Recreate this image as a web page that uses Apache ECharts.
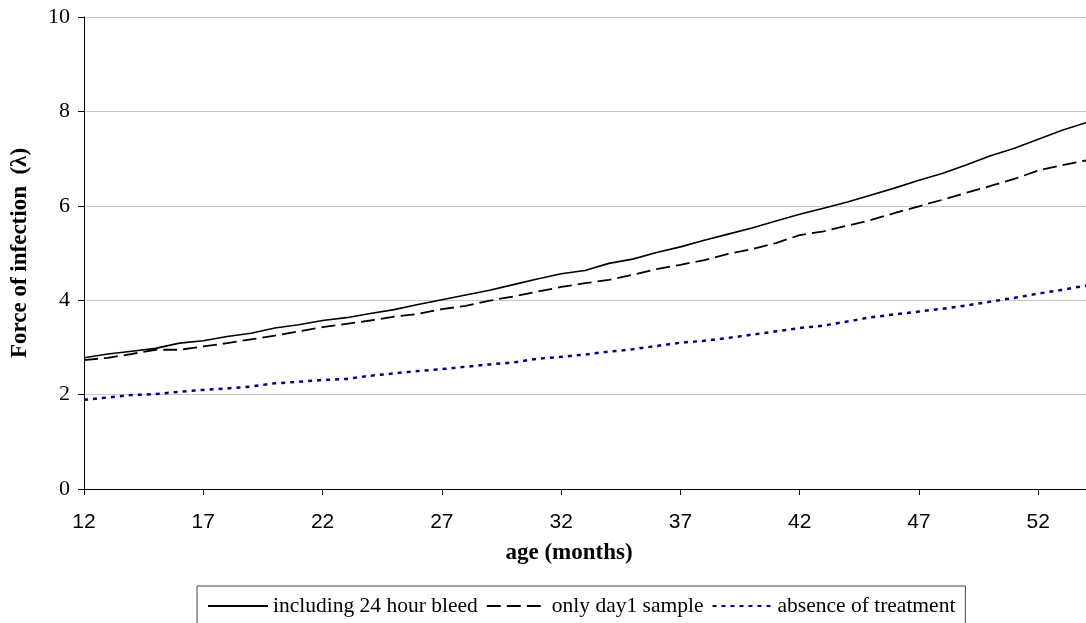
<!DOCTYPE html>
<html>
<head>
<meta charset="utf-8">
<script src="https://cdn.jsdelivr.net/npm/echarts@6/dist/echarts.min.js"></script>
<style>
html,body{margin:0;padding:0;background:#fff;}
#chart{width:1086px;height:623px;}
</style>
</head>
<body>
<div id="chart"></div>
<script>
// age in months
const months = ['12','13','14','15','16','17','18','19','20','21','22','23','24','25','26','27','28','29','30','31','32','33','34','35','36','37','38','39','40','41','42','43','44','45','46','47','48','49','50','51','52','53','54'];
// including 24 hour bleed
const bleed24 = [2.78,2.86,2.92,2.98,3.09,3.14,3.23,3.30,3.41,3.48,3.57,3.63,3.72,3.80,3.91,4.01,4.11,4.21,4.33,4.45,4.56,4.63,4.78,4.87,5.01,5.13,5.27,5.40,5.53,5.68,5.82,5.95,6.08,6.23,6.38,6.54,6.69,6.87,7.06,7.22,7.41,7.60,7.76];
// only day1 sample
const day1 = [2.73,2.78,2.86,2.95,2.95,3.02,3.09,3.17,3.25,3.34,3.43,3.50,3.57,3.65,3.71,3.81,3.88,3.99,4.08,4.18,4.28,4.36,4.43,4.54,4.66,4.75,4.85,4.98,5.08,5.21,5.38,5.46,5.58,5.70,5.85,5.99,6.13,6.28,6.42,6.57,6.75,6.86,6.96];
// absence of treatment
const noTreat = [1.89,1.94,1.99,2.01,2.06,2.10,2.13,2.17,2.24,2.27,2.31,2.33,2.40,2.45,2.50,2.54,2.59,2.64,2.68,2.76,2.80,2.85,2.91,2.96,3.03,3.10,3.14,3.20,3.27,3.34,3.41,3.46,3.55,3.64,3.70,3.76,3.82,3.89,3.97,4.05,4.14,4.22,4.31];
const seriesNames = ['including 24 hour bleed','only day1 sample','absence of treatment'];
const yTicks = {min:0, max:10, interval:2};

const serif = '"Liberation Serif","Times New Roman",serif';
const sans = '"Liberation Sans",Arial,sans-serif';

const chart = echarts.init(document.getElementById('chart'), null, {renderer:'canvas'});
chart.setOption({
  animation:false,
  backgroundColor:'#ffffff',
  grid:{left:84, top:17, height:472, width:1007, containLabel:false},
  legend:{
    left:197, top:586,
    padding:[8,10,8,10],
    itemWidth:60, itemHeight:14, itemGap:8,
    borderColor:'#444', borderWidth:1,
    itemStyle:{opacity:0},
    textStyle:{fontFamily:serif, fontSize:21.5, color:'#000', lineHeight:24},
    data:seriesNames
  },
  xAxis:{
    type:'category', data:months, boundaryGap:false,
    name:'age (months)', nameLocation:'middle', nameGap:53,
    nameTextStyle:{fontFamily:serif, fontWeight:'bold', fontSize:23, color:'#000', padding:[0,32,0,0]},
    axisLine:{lineStyle:{color:'#000', width:1}},
    axisTick:{interval:4, length:6, lineStyle:{color:'#000'}},
    axisLabel:{interval:4, fontFamily:sans, fontSize:21, color:'#000', margin:23},
    splitLine:{show:false}
  },
  yAxis:{
    type:'value', min:yTicks.min, max:yTicks.max, interval:yTicks.interval,
    name:'Force of infection  (\u03bb)', nameLocation:'middle', nameGap:52,
    nameTextStyle:{fontFamily:serif, fontWeight:'bold', fontSize:23, color:'#000'},
    axisLine:{show:true, lineStyle:{color:'#000', width:1}},
    axisTick:{show:true, length:6, lineStyle:{color:'#000'}},
    axisLabel:{fontFamily:serif, fontSize:22, color:'#000', margin:14},
    splitLine:{lineStyle:{color:'#c8c8c8', width:1}}
  },
  series:[
    {name:seriesNames[0], type:'line', data:bleed24, symbol:'none', smooth:false,
     lineStyle:{color:'#000', width:1.6, type:'solid'}, itemStyle:{color:'#000'}},
    {name:seriesNames[1], type:'line', data:day1, symbol:'none', smooth:false,
     lineStyle:{color:'#000', width:1.8, type:[14,6]}, itemStyle:{color:'#000'}},
    {name:seriesNames[2], type:'line', data:noTreat, symbol:'none', smooth:false,
     lineStyle:{color:'#000080', width:2.5, type:[4,5]}, itemStyle:{color:'#000080'}}
  ]
});
</script>
</body>
</html>
